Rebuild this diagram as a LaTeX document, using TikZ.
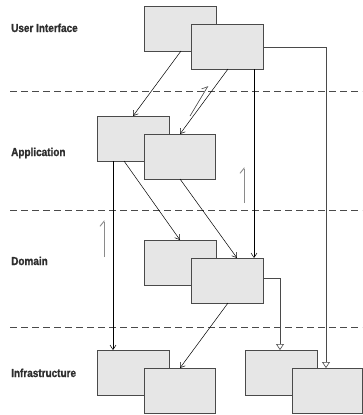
\documentclass[tikz,border=0pt]{standalone}
\usepackage{fontspec}
\usetikzlibrary{arrows.meta}
\newfontfamily\layerfont{Liberation Sans Bold}[FakeStretch=0.86,FakeBold=1.2]
\definecolor{boxfill}{HTML}{E6E6E6}
\definecolor{boxline}{HTML}{4A4A4A}
\definecolor{hintgray}{HTML}{8A8A8A}
\definecolor{labelcol}{HTML}{2E2E2E}
\begin{document}
\begin{tikzpicture}[x=1pt,y=-1pt,
  cls/.style={draw=boxline,fill=boxfill,line width=0.8pt,anchor=north west,
    minimum width=#1,minimum height=45pt,inner sep=0pt,outer sep=0pt},
  cls/.default=72pt,
  layer/.style={anchor=base west,inner sep=0pt,text=labelcol,
    font=\layerfont\fontsize{11.6}{12}\selectfont},
  sep/.style={draw=boxline,line width=0.7pt,dash pattern=on 7pt off 4pt},
  dep/.style={draw=black,line width=0.5pt,-{Straight Barb[length=4.5pt,width=6pt]}},
  gen/.style={draw=boxline,line width=0.6pt,-{Triangle[open,fill=white,length=6pt,width=8pt]}},
  hint/.style={draw=hintgray,line width=0.9pt,-{Straight Barb[harpoon,length=5pt,width=8pt]}}]
\useasboundingbox (0,0) rectangle (362,415);

% layer separators
\coordinate (s1a) at (10,91);  \coordinate (s1b) at (362,91);
\coordinate (s2a) at (10,210); \coordinate (s2b) at (362,210);
\coordinate (s3a) at (10,327); \coordinate (s3b) at (362,327);
\draw[sep] (s1a) -- (s1b);
\draw[sep] (s2a) -- (s2b);
\draw[sep] (s3a) -- (s3b);

% layer names
\node[layer] (lui)  at (11,32)  {User Interface};
\node[layer] (lapp) at (11,156) {Application};
\node[layer] (ldom) at (11,265) {Domain};
\node[layer] (linf) at (11,377) {Infrastructure};

% classes
\node[cls] (ui1)  at (144,6)   {};
\node[cls] (ui2)  at (191,24)  {};
\node[cls] (app1) at (97,116)  {};
\node[cls=71pt] (app2) at (144,134) {};
\node[cls] (dom1) at (144,240) {};
\node[cls] (dom2) at (191,258) {};
\node[cls] (inf1) at (97,350)  {};
\node[cls=71pt] (inf2) at (144,368) {};
\node[cls] (inf3) at (245,350) {};
\node[cls=70pt] (inf4) at (292,368) {};

% dependencies
\draw[dep] ([xshift=37pt]ui1.south west) -- ([xshift=36pt]app1.north west);
\draw[dep] ([xshift=37pt]ui2.south west) -- ([xshift=36pt]app2.north west);
\draw[dep] ([xshift=63pt]ui2.south west) -- ([xshift=63pt]dom2.north west);
\draw[dep] ([xshift=16pt]app1.south west) -- ([xshift=16pt]inf1.north west);
\draw[dep] ([xshift=27pt]app1.south west) -- ([xshift=36pt]dom1.north west);
\draw[dep] ([xshift=36pt]app2.south west) -- ([xshift=46pt]dom2.north west);
\draw[dep] ([xshift=37pt]dom2.south west) -- ([xshift=36pt]inf2.north west);

% realisations
\draw[gen] ([yshift=-23pt]ui2.north east) -| ([xshift=34pt]inf4.north west);
\draw[gen] ([yshift=-20pt]dom2.north east) -| ([xshift=35pt]inf3.north west);

% direction hints
\coordinate (h1a) at (190,116); \coordinate (h1b) at (208,86);
\coordinate (h2a) at (244,203); \coordinate (h2b) at (244,167);
\coordinate (h3a) at (104,257); \coordinate (h3b) at (104,220);
\draw[hint,draw=black!75,line width=0.6pt] (h1a) -- (h1b);
\draw[hint] (h2a) -- (h2b);
\draw[hint] (h3a) -- (h3b);
\end{tikzpicture}
\end{document}
